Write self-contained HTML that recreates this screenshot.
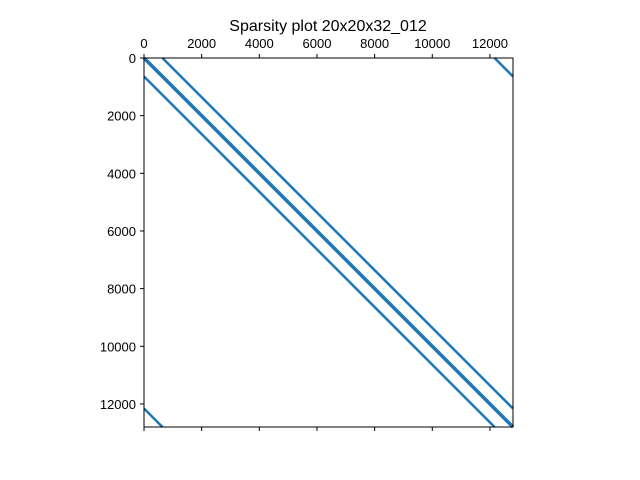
<!DOCTYPE html>
<html><head><meta charset="utf-8"><style>
body{margin:0;background:#fff}
svg{display:block;font-family:"Liberation Sans","DejaVu Sans",sans-serif}
</style></head><body>
<svg id="c" width="640" height="480">
<text x="328" y="31" font-size="16" text-anchor="middle">Sparsity plot 20x20x32_012</text>
<g id="marks"></g>
<g id="axes"></g>
</svg>
<script>
const N = 12800;
const xTicks = [0, 2000, 4000, 6000, 8000, 10000, 12000];
const yTicks = [0, 2000, 4000, 6000, 8000, 10000, 12000];
const diagOffsets = [0, 1, -1, 20, -20, 640, -640, 12160, -12160];
const diagWidths = [3.5, 1, 1, 2, 2, 2.5, 2.5, 2.5, 2.5];
const L = 144, T = 58, W = 369, H = 369;
const sx = v => L + v / N * W;
const sy = v => T + v / N * H;
const ns = "http://www.w3.org/2000/svg";
const marks = document.getElementById('marks');
const axes = document.getElementById('axes');
function mk(tag, attrs, parent) {
  const e = document.createElementNS(ns, tag);
  for (const k in attrs) e.setAttribute(k, attrs[k]);
  parent.appendChild(e); return e;
}
diagOffsets.forEach((off, i) => {
  const r0 = Math.max(0, -off), r1 = Math.min(N, N - off);
  const l = mk('line', {x1: sx(r0 + off), y1: sy(r0), x2: sx(r1 + off), y2: sy(r1),
    stroke: '#1f77b4', 'stroke-width': diagWidths[i]}, marks);
  
  
});
const fr = mk('rect', {x: L, y: T, width: W, height: H, fill: 'none', stroke: '#000', 'stroke-width': 1}, axes);


xTicks.forEach(v => {
  const x = sx(v);
  mk('line', {x1: x, y1: T, x2: x, y2: T - 4, stroke: '#000'}, axes);
  mk('line', {x1: x, y1: T + H, x2: x, y2: T + H + 4, stroke: '#000'}, axes);
  const t = mk('text', {x: x, y: T - 10, 'font-size': 13, 'text-anchor': 'middle'}, axes);
  t.textContent = v;
  
  
});
yTicks.forEach(v => {
  const y = sy(v);
  mk('line', {x1: L, y1: y, x2: L - 4, y2: y, stroke: '#000'}, axes);
  const t = mk('text', {x: L - 8, y: y + 5, 'font-size': 13, 'text-anchor': 'end'}, axes);
  t.textContent = v;
  
  
});
</script>
</body></html>
